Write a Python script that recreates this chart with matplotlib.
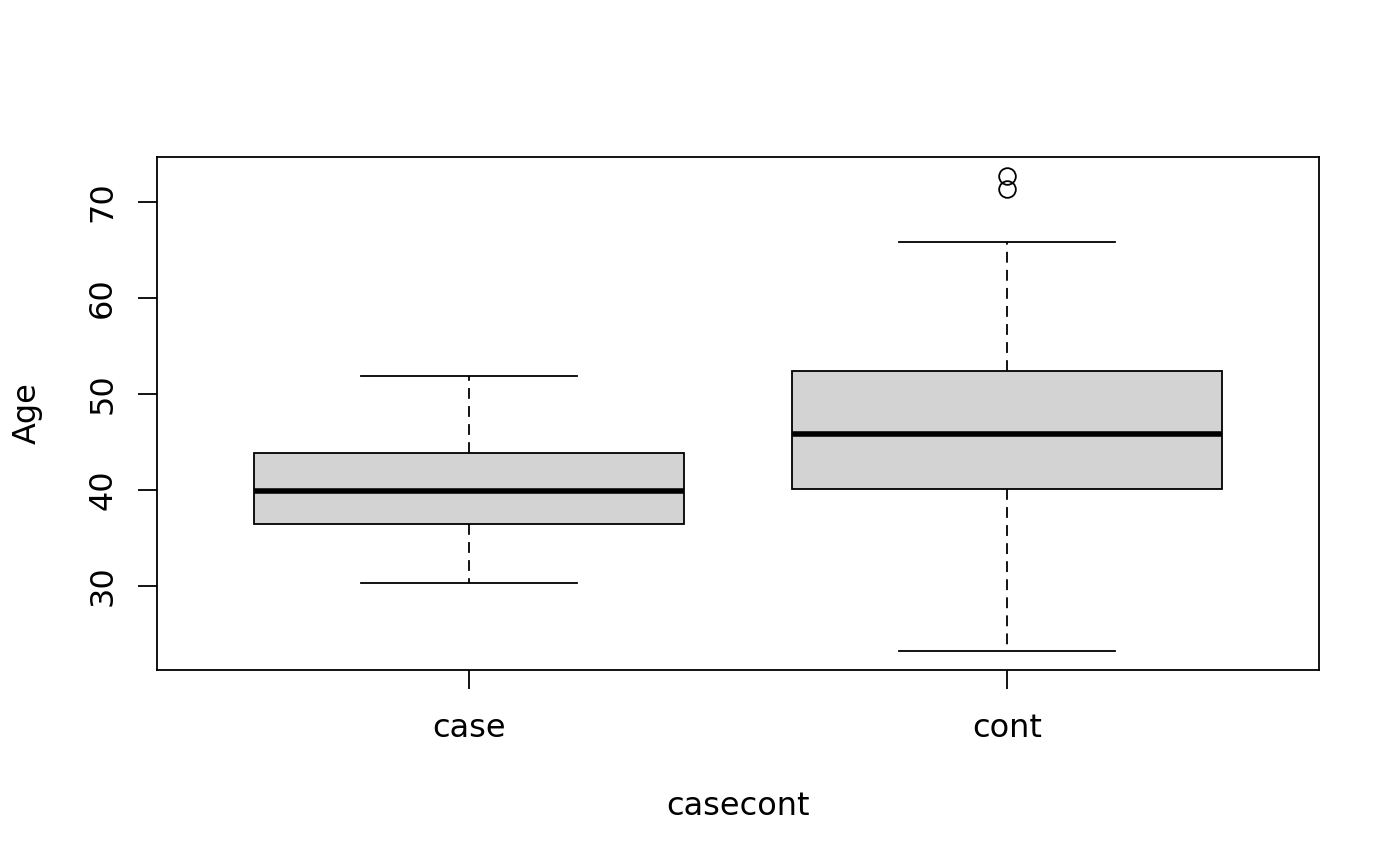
import matplotlib
matplotlib.use("Agg")
import matplotlib.pyplot as plt

categories = ["case", "cont"]
whislo = [30.3, 23.2]
q1 = [36.45, 40.1]
med = [39.9, 45.8]
q3 = [43.85, 52.4]
whishi = [51.9, 65.8]
fliers = [[], [71.35, 72.7]]
yticks = [30, 40, 50, 60, 70]

plt.rcParams['font.family'] = ['DejaVu Sans']
fig = plt.figure(figsize=(14, 8.66), dpi=100)
ax = fig.add_axes([157/1400, (866-670)/866, (1319-157)/1400, (670-157)/866])

stats = []
for i, c in enumerate(categories):
    stats.append(dict(label=c, whislo=whislo[i], q1=q1[i], med=med[i],
                      q3=q3[i], whishi=whishi[i], fliers=fliers[i]))

ax.bxp(stats, positions=[1, 2], widths=0.8, patch_artist=True,
       boxprops=dict(facecolor='#d3d3d3', edgecolor='black', linewidth=1.3),
       medianprops=dict(color='black', linewidth=4, solid_capstyle='butt'),
       whiskerprops=dict(color='black', linewidth=1.3, linestyle=(0, (6, 4))),
       capprops=dict(color='black', linewidth=1.3),
       capwidths=0.4,
       flierprops=dict(marker='o', markerfacecolor='none', markeredgecolor='black',
                       markersize=12, markeredgewidth=1.3))

lo = min(whislo); hi = max(max(f) if f else 0 for f in fliers)
rng = hi - lo
ax.set_ylim(lo - 0.04*rng, hi + 0.04*rng)
ax.set_xlim(0.42, 2.58)
ax.set_yticks(yticks)
ax.set_yticklabels([str(t) for t in yticks], rotation=90, va='center', fontsize=23)
ax.set_xticks([1, 2])
ax.set_xticklabels(categories, fontsize=23)
ax.tick_params(axis='both', length=14, width=1.3, direction='out')
ax.tick_params(axis='x', pad=17)
ax.tick_params(axis='y', pad=14)
for s in ax.spines.values():
    s.set_linewidth(1.3)
ax.set_xlabel("casecont", fontsize=23, labelpad=34)
ax.set_ylabel("Age", fontsize=23, labelpad=32)

fig.savefig("out.png", dpi=100)
